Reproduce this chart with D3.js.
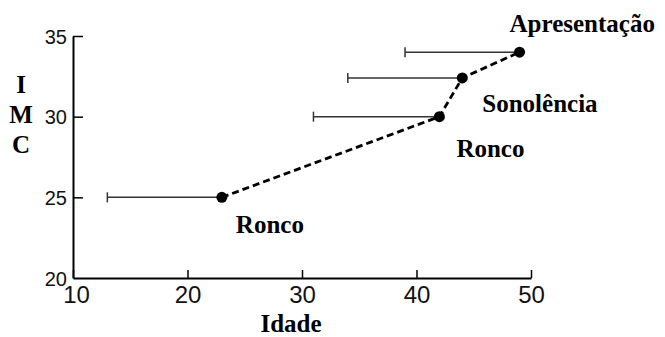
<!DOCTYPE html>
<html>
<head>
<meta charset="utf-8">
<script src="https://cdn.jsdelivr.net/npm/d3@7"></script>
<style>
  body { margin: 0; background: #fff; }
  svg { display: block; }
</style>
</head>
<body>
<div id="chart-container"></div>
<script>
const width = 665;
const height = 337;

// data
const idade = [23, 42, 44, 49];
const imc = [25, 30, 32.4, 34];
const idadeMin = [13, 31, 34, 39];
const fases = ["Ronco", "Ronco", "Sonolência", "Apresentação"];
const xTicks = [10, 20, 30, 40, 50];
const yTicks = [20, 25, 30, 35];

const data = idade.map((d, i) => ({ idade: d, imc: imc[i], min: idadeMin[i], fase: fases[i] }));

// label offsets from its point, pixels
const labelOffset = [[14, 36], [17, 40], [20, 34], [-10, -20]];

const svg = d3.select("#chart-container").append("svg")
  .attr("width", width)
  .attr("height", height);

const x = d3.scaleLinear().domain([10, 50]).range([73, 531]);
const y = d3.scaleLinear().domain([20, 35]).range([278, 36]);

// x axis
const xAxis = svg.append("g")
  .attr("transform", `translate(0,${y(20)})`)
  .call(d3.axisTop(x).tickValues(xTicks).tickSize(8).tickSizeOuter(0).tickFormat(d3.format("d")));
xAxis.select(".domain").attr("stroke", "#000").attr("stroke-width", 2);
xAxis.selectAll(".tick line").attr("stroke-width", 1.5);
xAxis.selectAll(".tick text")
  .attr("y", 25)
  .attr("dy", 0)
  .attr("dx", d => d === 10 ? 3 : 0)
  .style("font", "24px 'Liberation Sans', Arial, sans-serif")
  .attr("fill", "#111");

// y axis
const yAxis = svg.append("g")
  .attr("transform", `translate(${x(10)},0)`)
  .call(d3.axisRight(y).tickValues(yTicks).tickSize(10).tickSizeOuter(0).tickFormat(d3.format("d")));
yAxis.select(".domain").attr("stroke", "#000").attr("stroke-width", 2);
yAxis.selectAll(".tick line").attr("stroke-width", 1.5);
yAxis.selectAll(".tick text")
  .attr("x", -6)
  .attr("dy", "0.35em")
  .attr("text-anchor", "end")
  .style("font", "20px 'Liberation Sans', Arial, sans-serif")
  .attr("fill", "#111");
yAxis.selectAll(".tick").filter(d => d === 20).select("line").remove();

// error bars (left side only)
const g = svg.append("g");
g.selectAll(".err")
  .data(data)
  .enter().append("line")
  .attr("class", "err")
  .attr("x1", d => x(d.min))
  .attr("x2", d => x(d.idade))
  .attr("y1", d => y(d.imc))
  .attr("y2", d => y(d.imc))
  .attr("stroke", "#333")
  .attr("stroke-width", 1.5);

g.selectAll(".cap")
  .data(data)
  .enter().append("line")
  .attr("class", "cap")
  .attr("x1", d => x(d.min))
  .attr("x2", d => x(d.min))
  .attr("y1", d => y(d.imc) - 5)
  .attr("y2", d => y(d.imc) + 5)
  .attr("stroke", "#333")
  .attr("stroke-width", 1.5);

// dashed trend
const line = d3.line().x(d => x(d.idade)).y(d => y(d.imc));
g.append("path")
  .datum(data)
  .attr("d", line)
  .attr("fill", "none")
  .attr("stroke", "#000")
  .attr("stroke-width", 2.8)
  .attr("stroke-dasharray", "7,4");

g.selectAll(".dot")
  .data(data)
  .enter().append("circle")
  .attr("class", "dot")
  .attr("cx", d => x(d.idade))
  .attr("cy", d => y(d.imc))
  .attr("r", 5.5)
  .attr("fill", "#000");

// phase labels
const serif = "bold 25px 'Liberation Serif', 'Times New Roman', serif";
g.selectAll(".fase")
  .data(data)
  .enter().append("text")
  .attr("class", "fase")
  .attr("x", (d, i) => x(d.idade) + labelOffset[i][0])
  .attr("y", (d, i) => y(d.imc) + labelOffset[i][1])
  .style("font", serif)
  .attr("fill", "#000")
  .text(d => d.fase);

// axis titles
svg.append("text")
  .attr("x", 291)
  .attr("y", 332)
  .attr("text-anchor", "middle")
  .style("font", serif)
  .text("Idade");

const yTitle = svg.append("text")
  .attr("text-anchor", "middle")
  .style("font", serif);
["I", "M", "C"].forEach((c, i) => {
  yTitle.append("tspan")
    .attr("x", 21)
    .attr("y", 93 + i * 30)
    .text(c);
});
</script>
</body>
</html>
